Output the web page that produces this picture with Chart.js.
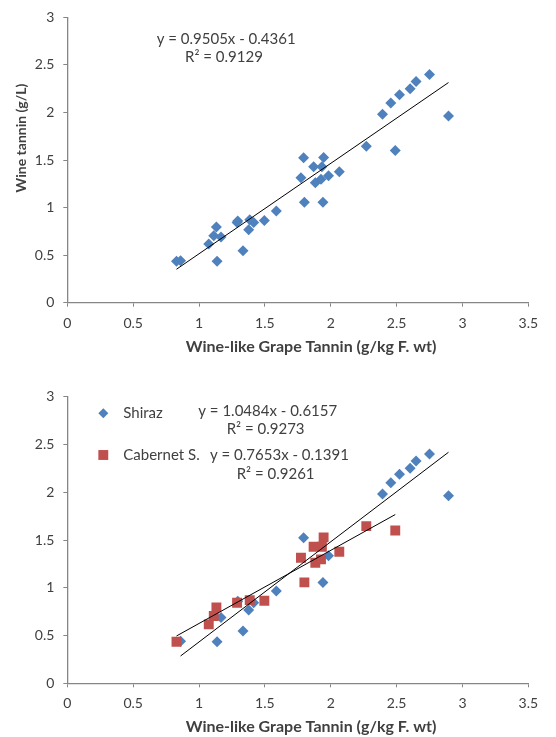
<!DOCTYPE html>
<html>
<head>
<meta charset="utf-8">
<script src="https://cdn.jsdelivr.net/npm/chart.js@4"></script>
<style>
  html, body { margin: 0; padding: 0; background: #fff; }
  body { width: 556px; height: 737px; position: relative; overflow: hidden; }
  .box { position: absolute; left: 0; width: 556px; }
  canvas { display: block; }
</style>
</head>
<body>
<div class="box" style="top:0;height:370px"><canvas id="c1" width="556" height="370"></canvas></div>
<div class="box" style="top:370px;height:367px"><canvas id="c2" width="556" height="367"></canvas></div>
<script>
// ---- data ----
const seriesNames = ['Shiraz', 'Cabernet S.'];
const shirazX = [0.86, 1.137, 1.167, 1.294, 1.334, 1.377, 1.415, 1.587, 1.794, 1.941, 1.983, 2.393, 2.456, 2.522, 2.603, 2.648, 2.75, 2.894];
const shirazY = [0.44, 0.435, 0.69, 0.86, 0.547, 0.767, 0.843, 0.965, 1.523, 1.056, 1.335, 1.981, 2.10, 2.187, 2.25, 2.326, 2.40, 1.964];
const cabernetX = [0.829, 1.074, 1.112, 1.132, 1.289, 1.385, 1.496, 1.774, 1.80, 1.87, 1.883, 1.926, 1.933, 1.946, 2.065, 2.27, 2.49];
const cabernetY = [0.435, 0.617, 0.704, 0.795, 0.843, 0.871, 0.864, 1.314, 1.056, 1.429, 1.262, 1.297, 1.429, 1.527, 1.377, 1.645, 1.60];
// trendline coefficients: [all, shiraz, cabernet]
const trendSlopes = [0.9505, 1.0484, 0.7653];
const trendIntercepts = [-0.4361, -0.6157, -0.1391];
const trendR2 = [0.9129, 0.9273, 0.9261];
const xTickLabels = ['0', '0.5', '1', '1.5', '2', '2.5', '3', '3.5'];
const yTickLabels = ['0', '0.5', '1', '1.5', '2', '2.5', '3'];
const xTitle = 'Wine-like Grape Tannin (g/kg F. wt)';
const yTitle = 'Wine tannin (g/L)';

// ---- helpers ----
const BLUE = '#4F81BD', RED = '#C0504D', TXT = '#404040', AX = '#868686';
const FONT = 'Lato, "Open Sans", sans-serif';
function pts(xs, ys) { return xs.map((x, i) => ({ x: x, y: ys[i] })); }
function eqText(i) {
  const b = trendIntercepts[i];
  return 'y = ' + trendSlopes[i] + 'x ' + (b < 0 ? '- ' : '+ ') + Math.abs(b);
}
function trend(xs, i) {
  const lo = Math.min(...xs), hi = Math.max(...xs);
  return [lo, hi].map(x => ({ x: x, y: trendSlopes[i] * x + trendIntercepts[i] }));
}
function trendDs(xs, i) {
  return { type: 'line', data: trend(xs, i), borderColor: '#000', borderWidth: 1,
           pointRadius: 0, fill: false, order: -1 };
}
function scales(xH) {
  return {
    x: { type: 'linear', min: 0, max: 3.5,
         ticks: { stepSize: 0.5, color: TXT, font: { family: FONT, size: 14 }, padding: 8,
                  callback: (v, i) => xTickLabels[i] },
         grid: { display: true, drawOnChartArea: false, drawTicks: true, tickLength: 4, color: AX, tickColor: AX },
         border: { display: true, color: AX, width: 1.3 },
         afterFit: s => { s.height = xH; } },
    y: { type: 'linear', min: 0, max: 3,
         ticks: { stepSize: 0.5, color: TXT, font: { family: FONT, size: 14 }, padding: 9,
                  callback: (v, i) => yTickLabels[i] },
         grid: { display: true, drawOnChartArea: false, drawTicks: true, tickLength: 4, color: AX, tickColor: AX },
         border: { display: true, color: AX, width: 1.3 },
         afterFit: s => { s.width = 67.3; } }
  };
}
// text overlay plugin (positions are canvas-relative)
function textPlugin(items) {
  return {
    id: 'txt',
    afterDraw(chart) {
      const ctx = chart.ctx;
      ctx.save();
      items.forEach(it => {
        if (it.marker) {
          ctx.fillStyle = it.color;
          ctx.beginPath();
          if (it.marker === 'rectRot') {
            ctx.moveTo(it.x, it.y - it.r); ctx.lineTo(it.x + it.r, it.y);
            ctx.lineTo(it.x, it.y + it.r); ctx.lineTo(it.x - it.r, it.y);
          } else {
            const s = it.r * Math.SQRT1_2;
            ctx.rect(it.x - s, it.y - s, 2 * s, 2 * s);
          }
          ctx.closePath(); ctx.fill();
          return;
        }
        ctx.fillStyle = TXT;
        ctx.font = it.font;
        ctx.textBaseline = 'middle';
        ctx.textAlign = it.align || 'left';
        if (it.rot) {
          ctx.save(); ctx.translate(it.x, it.y); ctx.rotate(-Math.PI / 2);
          ctx.fillText(it.text, 0, 0); ctx.restore();
        } else {
          ctx.fillText(it.text, it.x, it.y);
        }
      });
      ctx.restore();
    }
  };
}
const eqFont = '15px ' + FONT;
const xTitleFont = 'bold 16px ' + FONT;
const yTitleFont = 'bold 14px ' + FONT;
const common = {
  responsive: false, animation: false, events: [],
  plugins: { legend: { display: false }, tooltip: { enabled: false } }
};

// ---- chart 1: all samples ----
const allX = shirazX.concat(cabernetX), allY = shirazY.concat(cabernetY);
new Chart(document.getElementById('c1'), {
  type: 'scatter',
  data: { datasets: [
    trendDs(allX, 0),
    { label: 'All', data: pts(allX, allY), pointStyle: 'rectRot', pointRadius: 5.5,
      backgroundColor: BLUE, borderWidth: 0, order: 1 }
  ] },
  options: Object.assign({}, common, {
    layout: { padding: { top: 15.7, right: 27.7, left: 0, bottom: 0 } },
    scales: scales(67.3)
  }),
  plugins: [textPlugin([
    { text: eqText(0), x: 156.7, y: 39, font: eqFont },
    { text: 'R² = ' + trendR2[0], x: 185, y: 56.7, font: eqFont },
    { text: xTitle, x: 311, y: 346.7, font: xTitleFont, align: 'center' },
    { text: yTitle, x: 21.7, y: 138, font: yTitleFont, align: 'center', rot: true }
  ])]
});

// ---- chart 2: by variety ----
const o = 370;
new Chart(document.getElementById('c2'), {
  type: 'scatter',
  data: { datasets: [
    trendDs(shirazX, 1),
    trendDs(cabernetX, 2),
    { label: seriesNames[1], data: pts(cabernetX, cabernetY), pointStyle: 'rect', pointRadius: 7,
      backgroundColor: RED, borderWidth: 0, order: 0 },
    { label: seriesNames[0], data: pts(shirazX, shirazY), pointStyle: 'rectRot', pointRadius: 5.5,
      backgroundColor: BLUE, borderWidth: 0, order: 1 }
  ] },
  options: Object.assign({}, common, {
    layout: { padding: { top: 26.7, right: 27.7, left: 0, bottom: 0 } },
    scales: scales(53.7)
  }),
  plugins: [textPlugin([
    { marker: 'rectRot', r: 5, x: 103.3, y: 413.3 - o, color: BLUE },
    { text: seriesNames[0], x: 123.3, y: 413 - o, font: eqFont },
    { text: eqText(1), x: 198.3, y: 411 - o, font: eqFont },
    { text: 'R² = ' + trendR2[1], x: 226.7, y: 429 - o, font: eqFont },
    { marker: 'rect', r: 7, x: 103.3, y: 455 - o, color: RED },
    { text: seriesNames[1], x: 123.3, y: 455 - o, font: eqFont },
    { text: eqText(2), x: 210, y: 455 - o, font: eqFont },
    { text: 'R² = ' + trendR2[2], x: 236.7, y: 474 - o, font: eqFont },
    { text: xTitle, x: 311, y: 727.3 - o, font: xTitleFont, align: 'center' },
    { text: yTitle, x: 21.7, y: 519, font: yTitleFont, align: 'center', rot: true }
  ])]
});
</script>
</body>
</html>
